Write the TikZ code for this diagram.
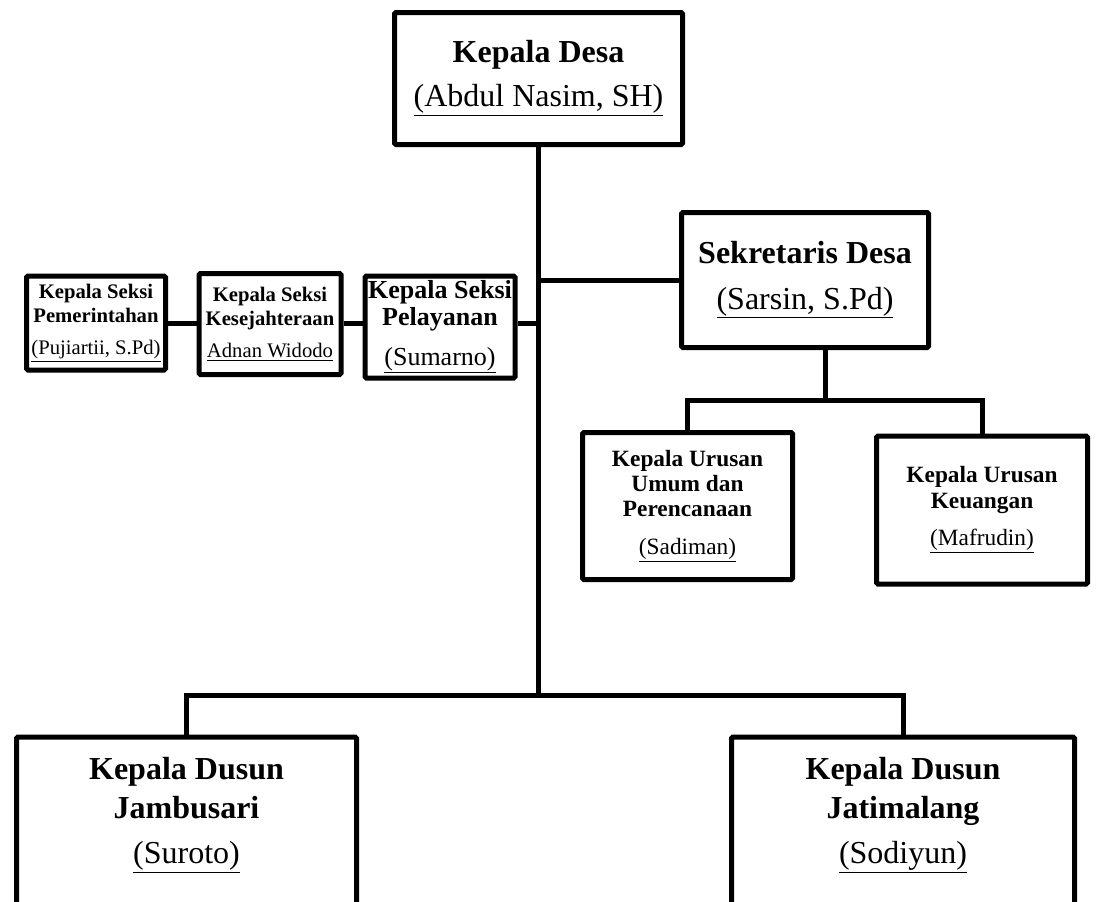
\documentclass[tikz,border=0pt]{standalone}
\usepackage{fontspec}
\setmainfont{Liberation Serif}
\usetikzlibrary{calc,positioning}
\tikzset{
jabatan/.style={
  rectangle,
  draw,
  line width=3.75pt,
  rounded corners=1pt,
  align=center,
  inner sep=0pt},
garis/.style={draw, line width=3.75pt},
besar/.style={font=\fontsize{24}{33}\selectfont},
urusan/.style={font=\fontsize{17.5}{19}\selectfont},
seksi/.style={font=\fontsize{15.5}{18}\selectfont},
layan/.style={font=\fontsize{19.5}{20}\selectfont}
}

\begin{document}
\begin{tikzpicture}[x=0.75pt, y=-0.75pt]
    \useasboundingbox (0,0) rectangle (1102,901);
    \clip (0,0) rectangle (1102,901);
    \node [jabatan, besar, minimum width=216pt, minimum height=99pt] (kades) at (538.5,78.5)
      {\textbf{Kepala Desa}\\\underline{(Abdul Nasim, SH)}};
    \node [jabatan, besar, minimum width=185.25pt, minimum height=101.25pt, %
      font=\fontsize{24}{34}\selectfont] (sekdes) at (805,280)
      {\textbf{Sekretaris Desa}\\\underline{(Sarsin, S.Pd)}};
    \node [jabatan, urusan, minimum width=157.5pt, minimum height=110.25pt] (umum) at (687.5,506)
      {\textbf{Kepala Urusan}\\\textbf{Umum dan}\\\textbf{Perencanaan}\\[9pt]\underline{(Sadiman)}};
    \node [jabatan, urusan, minimum width=158.25pt, minimum height=111pt] (keuangan) at (982,510)
      {\textbf{Kepala Urusan}\\\textbf{Keuangan}\\[9pt]\underline{(Mafrudin)}};
    \node [jabatan, layan, minimum width=112.5pt, minimum height=76.5pt] (pelayanan) at (440,327)
      {\textbf{Kepala Seksi}\\\textbf{Pelayanan}\\[10pt]\underline{(Sumarno)}};
    \node [jabatan, seksi, minimum width=106.5pt, minimum height=75.75pt] (kesejahteraan) at (270,324)
      {\textbf{Kepala Seksi}\\\textbf{Kesejahteraan}\\[6pt]\underline{Adnan Widodo}};
    \node [jabatan, seksi, minimum width=104.25pt, minimum height=70.5pt] (pemerintahan) at (96,323)
      {\textbf{Kepala Seksi}\\\textbf{Pemerintahan}\\[6pt]\underline{(Pujiartii, S.Pd)}};
    \node [jabatan, minimum width=255pt, minimum height=225pt, anchor=north] (dusun1) at (186.5,734.5) {};
    \node [jabatan, minimum width=257.25pt, minimum height=225pt, anchor=north] (dusun2) at (903,734.5) {};
    \node [besar, align=center, font=\fontsize{24}{29}\selectfont] (jambusari) at (186.5,815)
      {\textbf{Kepala Dusun}\\\textbf{Jambusari}\\[5pt]\underline{(Suroto)}};
    \node [besar, align=center, font=\fontsize{24}{29}\selectfont] (jatimalang) at (903,815)
      {\textbf{Kepala Dusun}\\\textbf{Jatimalang}\\[5pt]\underline{(Sodiyun)}};
    \coordinate (cabang) at (825,400);
    \coordinate (bawah) at (538.5,695);
    \coordinate (seksi) at (538.5,323);
    \path [garis] (kades.south) -- (bawah);
    \path [garis] (kades.south |- sekdes.west) -- (sekdes.west);
    \path [garis] (pelayanan.east |- seksi) -- (seksi);
    \path [garis] (kesejahteraan.east |- seksi) -- (pelayanan.west |- seksi);
    \path [garis] (pemerintahan.east |- seksi) -- (kesejahteraan.west |- seksi);
    \path [garis] (sekdes.south -| cabang) -- (cabang);
    \path [garis] (umum.north) |- (cabang) -| (keuangan.north);
    \path [garis] (dusun1.north) |- (bawah) -| (dusun2.north);
\end{tikzpicture}
\end{document}
